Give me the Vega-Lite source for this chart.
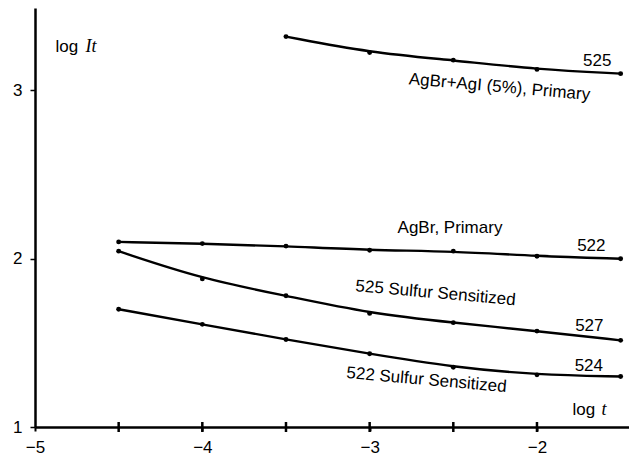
{
  "$schema": "https://vega.github.io/schema/vega-lite/v6.json",
  "width": 594,
  "height": 419,
  "autosize": "none",
  "padding": {"left": 35, "top": 8, "right": 0, "bottom": 34},
  "background": "white",
  "config": {"view": {"stroke": null}, "font": "Liberation Sans"},
  "datasets": {
    "pts": [
      {"series": "AgBrAgI", "logt": -3.5, "logIt": 3.32},
      {"series": "AgBrAgI", "logt": -3.0, "logIt": 3.225},
      {"series": "AgBrAgI", "logt": -2.5, "logIt": 3.18},
      {"series": "AgBrAgI", "logt": -2.0, "logIt": 3.125},
      {"series": "AgBrAgI", "logt": -1.5, "logIt": 3.10},
      {"series": "AgBr", "logt": -4.5, "logIt": 2.10},
      {"series": "AgBr", "logt": -4.0, "logIt": 2.09},
      {"series": "AgBr", "logt": -3.5, "logIt": 2.075},
      {"series": "AgBr", "logt": -3.0, "logIt": 2.05},
      {"series": "AgBr", "logt": -2.5, "logIt": 2.045},
      {"series": "AgBr", "logt": -2.0, "logIt": 2.015},
      {"series": "AgBr", "logt": -1.5, "logIt": 2.0},
      {"series": "S525", "logt": -4.5, "logIt": 2.045},
      {"series": "S525", "logt": -4.0, "logIt": 1.88},
      {"series": "S525", "logt": -3.5, "logIt": 1.78},
      {"series": "S525", "logt": -3.0, "logIt": 1.675},
      {"series": "S525", "logt": -2.5, "logIt": 1.62},
      {"series": "S525", "logt": -2.0, "logIt": 1.57},
      {"series": "S525", "logt": -1.5, "logIt": 1.515},
      {"series": "S522", "logt": -4.5, "logIt": 1.70},
      {"series": "S522", "logt": -4.0, "logIt": 1.61},
      {"series": "S522", "logt": -3.5, "logIt": 1.52},
      {"series": "S522", "logt": -3.0, "logIt": 1.435},
      {"series": "S522", "logt": -2.5, "logIt": 1.355},
      {"series": "S522", "logt": -2.0, "logIt": 1.31},
      {"series": "S522", "logt": -1.5, "logIt": 1.30}
    ],
    "minor": [
      {"logt": -4.5, "logIt": 1}, {"logt": -4, "logIt": 1}, {"logt": -3.5, "logIt": 1},
      {"logt": -3, "logIt": 1}, {"logt": -2.5, "logIt": 1}, {"logt": -2, "logIt": 1}
    ],
    "tilted": [
      {"label": "AgBr+AgI (5%), Primary", "logt": -2.224, "logIt": 3.02},
      {"label": "525 Sulfur Sensitized", "logt": -2.606, "logIt": 1.795},
      {"label": "522 Sulfur Sensitized", "logt": -2.66, "logIt": 1.279}
    ],
    "flat": [
      {"label": "525", "logt": -1.64, "logIt": 3.175},
      {"label": "AgBr, Primary", "logt": -2.52, "logIt": 2.181},
      {"label": "522", "logt": -1.675, "logIt": 2.074},
      {"label": "527", "logt": -1.687, "logIt": 1.60},
      {"label": "524", "logt": -1.69, "logIt": 1.362},
      {"label": "log", "logt": -4.81, "logIt": 3.26},
      {"label": "log", "logt": -1.72, "logIt": 1.10}
    ],
    "italic": [
      {"label": "It", "logt": -4.665, "logIt": 3.26},
      {"label": "t", "logt": -1.6, "logIt": 1.10}
    ]
  },
  "layer": [
    {
      "data": {"name": "pts"},
      "mark": {"type": "line", "interpolate": "basis", "color": "black", "strokeWidth": 2.4},
      "encoding": {
        "x": {"field": "logt", "type": "quantitative",
          "scale": {"domain": [-5, -1.45], "nice": false, "zero": false},
          "axis": {"title": null, "values": [-5, -4, -3, -2],
            "labelExpr": "'−' + abs(datum.value)",
            "labelOverlap": false,
            "grid": false, "domainColor": "black", "domainWidth": 2.5, "tickColor": "black",
            "tickSize": 4, "tickWidth": 2, "labelColor": "black", "labelFontSize": 17, "labelPadding": 8, "labelFlush": false}},
        "y": {"field": "logIt", "type": "quantitative",
          "scale": {"domain": [1, 3.49], "nice": false, "zero": false},
          "axis": {"title": null, "values": [1, 2, 3], "format": "d",
            "labelOverlap": false,
            "grid": false, "domainColor": "black", "domainWidth": 2.5, "tickColor": "black",
            "tickSize": 5, "tickWidth": 1.5, "labelColor": "black", "labelFontSize": 17, "labelPadding": 8, "labelFlush": false}},
        "detail": {"field": "series"}
      }
    },
    {
      "data": {"name": "minor"},
      "mark": {"type": "tick", "orient": "vertical", "color": "black", "size": 10, "thickness": 2.5, "opacity": 1},
      "encoding": {
        "x": {"field": "logt", "type": "quantitative"},
        "y": {"field": "logIt", "type": "quantitative"}
      }
    },
    {
      "data": {"name": "pts"},
      "mark": {"type": "point", "filled": true, "color": "black", "size": 24, "opacity": 1},
      "encoding": {
        "x": {"field": "logt", "type": "quantitative"},
        "y": {"field": "logIt", "type": "quantitative"}
      }
    },
    {
      "data": {"name": "tilted"},
      "mark": {"type": "text", "angle": 5, "fontSize": 17, "color": "black"},
      "encoding": {
        "x": {"field": "logt", "type": "quantitative"},
        "y": {"field": "logIt", "type": "quantitative"},
        "text": {"field": "label"}
      }
    },
    {
      "data": {"name": "flat"},
      "mark": {"type": "text", "fontSize": 17, "color": "black"},
      "encoding": {
        "x": {"field": "logt", "type": "quantitative"},
        "y": {"field": "logIt", "type": "quantitative"},
        "text": {"field": "label"}
      }
    },
    {
      "data": {"name": "italic"},
      "mark": {"type": "text", "fontSize": 18, "color": "black", "font": "Liberation Serif", "fontStyle": "italic"},
      "encoding": {
        "x": {"field": "logt", "type": "quantitative"},
        "y": {"field": "logIt", "type": "quantitative"},
        "text": {"field": "label"}
      }
    }
  ]
}
